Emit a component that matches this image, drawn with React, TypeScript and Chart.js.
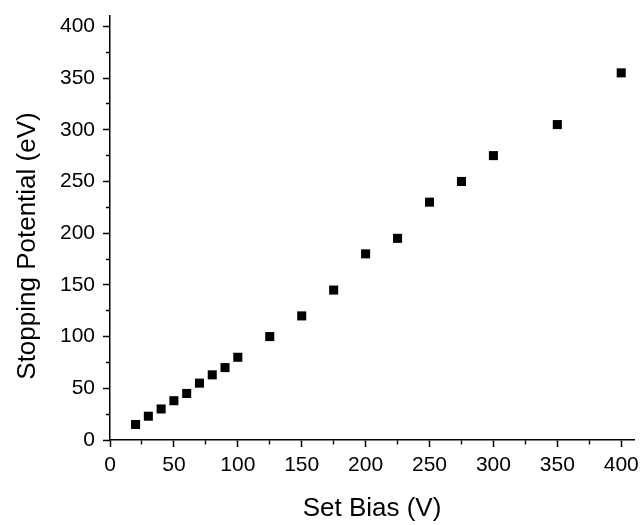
import React, { useEffect, useRef } from "react";
import { Chart, registerables } from "chart.js";

Chart.register(...registerables);

// Data
const setBiasV: number[] = [20, 30, 40, 50, 60, 70, 80, 90, 100, 125, 150, 175, 200, 225, 250, 275, 300, 350, 400];
const stoppingPotentialEV: number[] = [15, 23, 30, 38, 45, 55, 63, 70, 80, 100, 120, 145, 180, 195, 230, 250, 275, 305, 355];

const xTitle = "Set Bias (V)";
const yTitle = "Stopping Potential (eV)";
const xMin = 0;
const xMax = 410;
const yMin = 0;
const yMax = 410;
const minorStep = 25;
const majorStep = 50;

const FONT_FAMILY = "'Liberation Sans', Arial, Helvetica, sans-serif";
const TICK_FONT_SIZE = 21;
const TITLE_FONT_SIZE = 26;

export default function App() {
  const ref = useRef<HTMLCanvasElement>(null);

  useEffect(() => {
    const canvas = ref.current;
    if (!canvas) return;

    const yTitlePlugin = {
      id: "yTitleDraw",
      afterDraw(chart: any) {
        const { ctx, chartArea } = chart;
        ctx.save();
        ctx.font = `${TITLE_FONT_SIZE}px ${FONT_FAMILY}`;
        ctx.fillStyle = "#000";
        ctx.textAlign = "center";
        ctx.textBaseline = "alphabetic";
        ctx.translate(35, (chartArea.top + chartArea.bottom) / 2 + 18);
        ctx.rotate(-Math.PI / 2);
        ctx.fillText(yTitle, 0, 0);
        ctx.restore();
      },
    };

    const isMajor = (v: number) => Math.abs(v % majorStep) < 1e-6;

    const chart = new Chart(canvas, {
      type: "scatter",
      data: {
        datasets: [
          {
            data: setBiasV.map((x, i) => ({ x, y: stoppingPotentialEV[i] })),
            pointStyle: "rect",
            pointRadius: 6.4,
            pointHoverRadius: 6.4,
            backgroundColor: "#000",
            borderColor: "#000",
            borderWidth: 0,
            showLine: false,
          },
        ],
      },
      options: {
        responsive: false,
        animation: false,
        events: [],
        layout: { padding: { top: 16, right: 8, left: 0, bottom: 0 } },
        plugins: {
          legend: { display: false },
          tooltip: { enabled: false },
          title: { display: false },
        },
        scales: {
          x: {
            type: "linear",
            min: xMin,
            max: xMax,
            ticks: {
              stepSize: minorStep,
              includeBounds: false,
              autoSkip: false,
              maxRotation: 0,
              padding: 6,
              color: "#000",
              font: { family: FONT_FAMILY, size: TICK_FONT_SIZE },
              callback: (v: any) => (isMajor(Number(v)) ? String(v) : ""),
            },
            grid: {
              drawOnChartArea: false,
              drawTicks: true,
              tickLength: 7,
              tickWidth: 1.5,
              tickColor: "#000",
              tickBorderDash: (ctx: any) =>
                ctx.tick && !isMajor(ctx.tick.value) ? [4, 100] : [],
            },
            border: { display: true, color: "#000", width: 1.5 },
            title: {
              display: true,
              text: xTitle,
              color: "#000",
              font: { family: FONT_FAMILY, size: TITLE_FONT_SIZE },
              padding: { top: 4, bottom: 1 },
            },
            afterFit: (s: any) => {
              s.height = 85;
              s.paddingLeft = 0;
              s.paddingRight = 0;
            },
          },
          y: {
            type: "linear",
            min: yMin,
            max: yMax,
            ticks: {
              stepSize: minorStep,
              includeBounds: false,
              autoSkip: false,
              padding: 8,
              color: "#000",
              font: { family: FONT_FAMILY, size: TICK_FONT_SIZE },
              callback: (v: any) => (isMajor(Number(v)) ? String(v) : ""),
            },
            grid: {
              drawOnChartArea: false,
              drawTicks: true,
              tickLength: 7,
              tickWidth: 1.5,
              tickColor: "#000",
              tickBorderDash: (ctx: any) =>
                ctx.tick && !isMajor(ctx.tick.value) ? [0, 3, 4, 100] : [],
            },
            border: { display: true, color: "#000", width: 1.5 },
            title: { display: false },
            afterFit: (s: any) => {
              s.width = 110;
              s.paddingTop = 0;
              s.paddingBottom = 0;
            },
          },
        },
      },
      plugins: [yTitlePlugin],
    } as any);

    return () => chart.destroy();
  }, []);

  return (
    <div style={{ position: "absolute", left: 0, top: 0, width: 642, height: 525, background: "#fff" }}>
      <canvas ref={ref} width={642} height={525} style={{ display: "block" }} />
    </div>
  );
}
